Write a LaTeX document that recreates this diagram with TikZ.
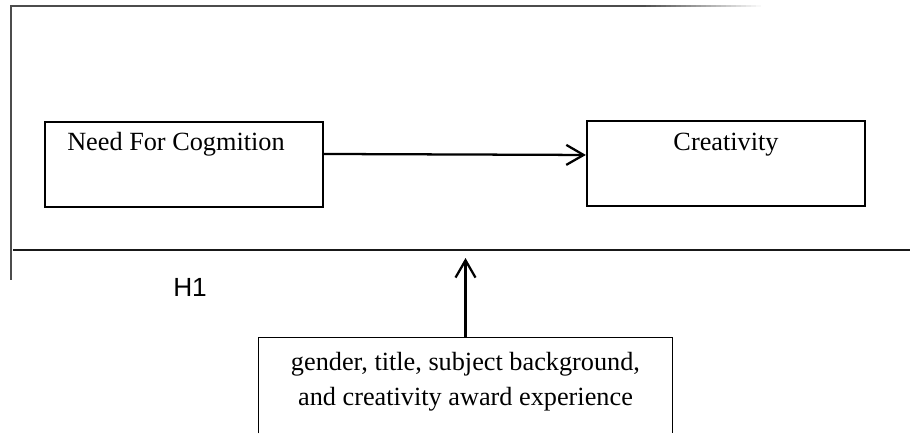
\documentclass[tikz,border=0pt]{standalone}
\usepackage{fontspec}
\setmainfont{Liberation Serif}
\newfontfamily\arialfont{Liberation Sans}
\usetikzlibrary{arrows.meta}
\tikzset{
  boxnode/.style={draw=black, line width=1.7pt, minimum width=208.5pt, minimum height=63.75pt, inner sep=0pt},
  txt/.style={font=\fontsize{19.7}{26.3}\selectfont, inner sep=0pt},
  arr/.style={line width=1.7pt, -{Straight Barb[length=13pt, width=15pt, line width=1.7pt]}},
  frame/.style={draw=black!70, line width=1.5pt},
}
\begin{document}
\begin{tikzpicture}[x=0.75pt, y=-0.75pt]
\useasboundingbox (0,0) rectangle (910,433);
% frame lines
\coordinate (tl) at (11,5.5);
\coordinate (fadeA) at (641,5.5);
\coordinate (lb) at (11,280);
\draw[frame, line cap=butt] (fadeA) -- (tl) -- (lb);
\foreach \i in {0,...,23} {
  \pgfmathsetmacro{\shadeval}{70*(1-\i/24)}
  \draw[draw=black!\shadeval, line width=1.5pt, line cap=butt] (641+5*\i,5.5) -- (646+5*\i,5.5);
}
\coordinate (ml) at (13,249.5);
\coordinate (mr) at (910,249.5);
\draw[draw=black!90, line width=1.5pt] (ml) -- (mr);
% boxes
\node[boxnode] (need) at (184,164.5) {};
\node[txt, anchor=base west] (needtxt) at (67,150) {Need For Cogmition};
\node[boxnode] (creat) at (726,163.5) {};
\node[txt, anchor=base] (creattxt) at (726,150) {Creativity};
% bottom open box
\node[minimum width=309.75pt, minimum height=71.25pt, inner sep=0pt] (ctrl) at (465.5,385.5) {};
\draw[line width=1pt] (ctrl.south west) -- (ctrl.north west) -- (ctrl.north east) -- (ctrl.south east);
\node[txt, anchor=base] (ctrl1) at (465.5,370) {gender, title, subject background,};
\node[txt, anchor=base] (ctrl2) at (465.5,405) {and creativity award experience};
% H1
\node[font=\arialfont\fontsize{19.7}{24}\selectfont, inner sep=0pt, anchor=base west] (h1) at (173,296) {H1};
% arrows
\draw[arr] ([yshift=7.9pt]need.east) -- ([yshift=6.4pt]creat.west);
\coordinate (tip) at (465.5,258);
\draw[arr] (ctrl.north) -- (tip);
\end{tikzpicture}
\end{document}
